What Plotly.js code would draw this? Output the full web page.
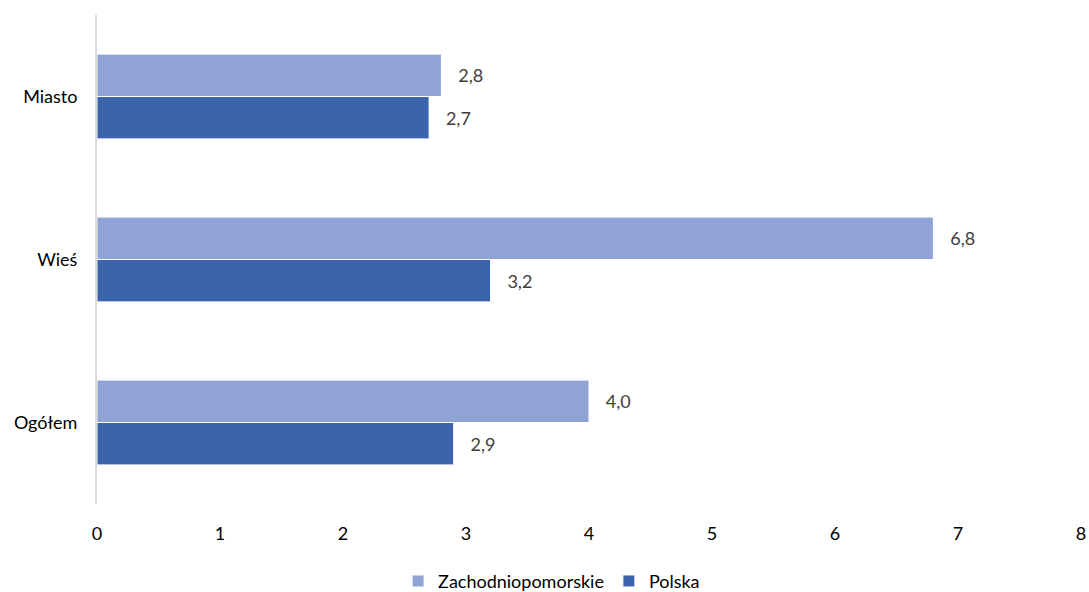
<!DOCTYPE html>
<html>
<head>
<meta charset="utf-8">
<script src="https://cdn.plot.ly/plotly-3.0.1.min.js"></script>
<style>html,body{margin:0;padding:0;background:#fff;}#chart{width:1089px;height:592px;}</style>
</head>
<body>
<div id="chart"></div>
<script>
const categories = ['Ogółem', 'Wieś', 'Miasto'];
const zachodniopomorskie = [4.0, 6.8, 2.8];
const polska = [2.9, 3.2, 2.7];
const xTicks = [0, 1, 2, 3, 4, 5, 6, 7, 8];

const pad = '\u00a0\u00a0\u00a0';
const FONT = 'Lato, sans-serif';
const traces = [
  {
    type: 'bar', orientation: 'h', name: 'Polska',
    y: categories, x: polska,
    marker: {color: '#3C64AD', line: {color: '#ffffff', width: 1}},
    texttemplate: pad + '%{x:.1f}', textposition: 'outside', cliponaxis: false,
    textfont: {color: '#404040', size: 18, family: FONT},
    hoverinfo: 'none'
  },
  {
    type: 'bar', orientation: 'h', name: 'Zachodniopomorskie',
    y: categories, x: zachodniopomorskie,
    marker: {color: '#8FA3D5', line: {color: '#ffffff', width: 1}},
    texttemplate: pad + '%{x:.1f}', textposition: 'outside', cliponaxis: false,
    textfont: {color: '#404040', size: 18, family: FONT},
    hoverinfo: 'none'
  }
];

const layout = {
  width: 1089, height: 592,
  margin: {l: 97, r: 8, t: 15, b: 88, autoexpand: false},
  paper_bgcolor: '#ffffff', plot_bgcolor: '#ffffff',
  font: {family: FONT, size: 18, color: '#000000'},
  separators: ', ',
  barmode: 'group', bargap: 0.48, bargroupgap: 0,
  showlegend: true,
  legend: {orientation: 'h', x: 0.462, xanchor: 'center', y: -0.158, yanchor: 'middle',
           traceorder: 'reversed', font: {size: 18, color: '#000000'}},
  xaxis: {
    range: [0, 8], tickvals: xTicks, ticktext: xTicks.map(String),
    showgrid: false, zeroline: false, showline: false, automargin: false,
    ticks: 'outside', ticklen: 13, tickcolor: 'rgba(0,0,0,0)',
    tickfont: {size: 18, color: '#000000'}
  },
  yaxis: {
    categoryorder: 'array', categoryarray: categories,
    showgrid: false, zeroline: false, automargin: false,
    showline: true, linecolor: '#D9D9D9', linewidth: 2,
    ticks: 'outside', ticklen: 14, tickcolor: 'rgba(0,0,0,0)',
    tickfont: {size: 18, color: '#000000'}
  }
};

Plotly.newPlot('chart', traces, layout, {displayModeBar: false, staticPlot: true});
</script>
</body>
</html>
